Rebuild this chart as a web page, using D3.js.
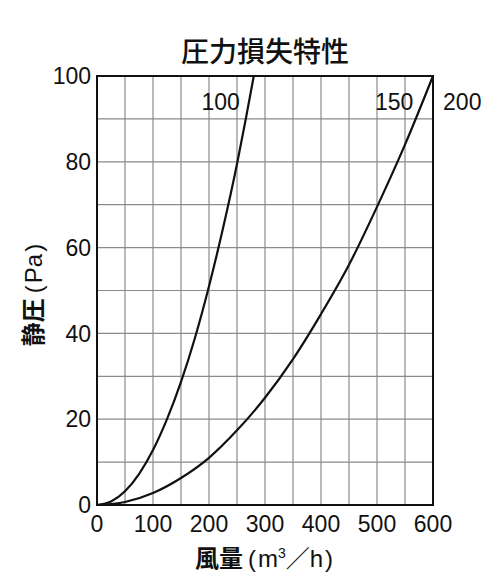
<!DOCTYPE html>
<html>
<head>
<meta charset="utf-8">
<script src="https://cdn.jsdelivr.net/npm/d3@7"></script>
<style>
  body { margin: 0; background: #fff; }
  svg { display: block; }
</style>
</head>
<body>
<div id="chart"></div>
<script>
// values
const flow100 = [0, 25, 50, 75, 100, 125, 150, 175, 200, 225, 250, 265, 280];
const pres100 = [0, 0.8, 3.2, 7.2, 12.8, 20, 28.7, 39, 51, 64.5, 79.5, 89.5, 100];
const flow150 = [0, 50, 100, 150, 200, 250, 300, 350, 400, 450, 500, 550, 600];
const pres150 = [0, 0.7, 2.8, 6.3, 11, 17.4, 25, 34, 44.5, 56, 69.5, 84, 100];
const xTicks = [0, 100, 200, 300, 400, 500, 600];
const yTicks = [0, 20, 40, 60, 80, 100];
const xGrid = d3.range(50, 600, 50);
const yGrid = d3.range(10, 100, 10);

const width = 500, height = 585;
const plotLeft = 97, plotRight = 433, plotTop = 76, plotBottom = 505;
const numFont = '"Liberation Sans", Arial, sans-serif';
const jpFont = '"Noto Sans CJK JP", sans-serif';

const svg = d3.select('#chart').append('svg')
    .attr('width', width)
    .attr('height', height);

const x = d3.scaleLinear().domain([0, 600]).range([plotLeft, plotRight]);
const y = d3.scaleLinear().domain([0, 100]).range([plotBottom, plotTop]);

// grid
svg.append('g').selectAll('line').data(xGrid).enter().append('line')
    .attr('x1', d => x(d)).attr('x2', d => x(d))
    .attr('y1', plotTop).attr('y2', plotBottom)
    .attr('stroke', '#8a8a8a').attr('stroke-width', 1.2);
svg.append('g').selectAll('line').data(yGrid).enter().append('line')
    .attr('x1', plotLeft).attr('x2', plotRight)
    .attr('y1', d => y(d)).attr('y2', d => y(d))
    .attr('stroke', '#8a8a8a').attr('stroke-width', 1.2);

// frame
svg.append('rect')
    .attr('x', plotLeft).attr('y', plotTop)
    .attr('width', plotRight - plotLeft).attr('height', plotBottom - plotTop)
    .attr('fill', 'none').attr('stroke', '#111').attr('stroke-width', 2);

// tick labels
svg.append('g').selectAll('text').data(xTicks).enter().append('text')
    .attr('x', d => x(d)).attr('y', plotBottom + 27)
    .attr('text-anchor', 'middle')
    .attr('font-family', numFont).attr('font-size', 23)
    .attr('fill', '#111')
    .text(d => d);
svg.append('g').selectAll('text').data(yTicks).enter().append('text')
    .attr('x', plotLeft - 6).attr('y', d => y(d))
    .attr('dy', '0.36em')
    .attr('text-anchor', 'end')
    .attr('font-family', numFont).attr('font-size', 23)
    .attr('fill', '#111')
    .text(d => d);

// curves
const line = d3.line()
    .x(d => x(d[0]))
    .y(d => y(d[1]))
    .curve(d3.curveMonotoneX);

svg.append('path')
    .datum(flow100.map((f, i) => [f, pres100[i]]))
    .attr('d', line)
    .attr('fill', 'none').attr('stroke', '#111').attr('stroke-width', 2.2);
svg.append('path')
    .datum(flow150.map((f, i) => [f, pres150[i]]))
    .attr('d', line)
    .attr('fill', 'none').attr('stroke', '#111').attr('stroke-width', 2.2);

// curve labels
const labels = [
    { t: '100', q: 255, a: 'end' },
    { t: '150', q: 565, a: 'end' },
    { t: '200', q: 618, a: 'start' }
];
svg.append('g').selectAll('text').data(labels).enter().append('text')
    .attr('x', d => x(d.q)).attr('y', y(94))
    .attr('dy', '0.36em')
    .attr('text-anchor', d => d.a)
    .attr('font-family', numFont).attr('font-size', 23)
    .attr('fill', '#111')
    .text(d => d.t);

// titles
svg.append('text')
    .attr('x', (plotLeft + plotRight) / 2).attr('y', 62)
    .attr('text-anchor', 'middle')
    .attr('font-family', jpFont).attr('font-size', 28).attr('font-weight', 500)
    .attr('fill', '#111')
    .text('圧力損失特性');

const xTitle = svg.append('text')
    .attr('x', 264).attr('y', 567)
    .attr('text-anchor', 'middle')
    .attr('font-family', jpFont).attr('font-size', 24)
    .attr('fill', '#111');
xTitle.append('tspan').attr('font-weight', 700).text('風量');
xTitle.append('tspan').attr('font-family', numFont).attr('dx', 5).text('(');
xTitle.append('tspan').attr('font-family', numFont).attr('dx', 2).text('m');
xTitle.append('tspan').attr('font-family', numFont).attr('font-size', 14).attr('dy', -9).text('3');
xTitle.append('tspan').attr('dy', 9).text('／');
xTitle.append('tspan').attr('font-family', numFont).text('h');
xTitle.append('tspan').attr('font-family', numFont).attr('dx', 2).text(')');

const yTitle = svg.append('text')
    .attr('transform', 'translate(42,295) rotate(-90)')
    .attr('text-anchor', 'middle')
    .attr('font-family', jpFont).attr('font-size', 24)
    .attr('fill', '#111');
yTitle.append('tspan').attr('font-weight', 700).text('静圧');
yTitle.append('tspan').attr('font-family', numFont).attr('dx', 5).text('(');
yTitle.append('tspan').attr('font-family', numFont).attr('dx', 2).text('Pa');
yTitle.append('tspan').attr('font-family', numFont).attr('dx', 2).text(')');
</script>
</body>
</html>
